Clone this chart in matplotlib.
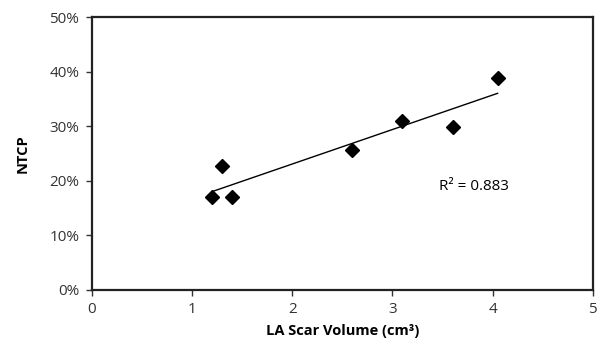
import matplotlib.pyplot as plt
import numpy as np
from matplotlib.ticker import FuncFormatter

# scar volume (cm^3) vs NTCP (%)
scar_volume = [1.2, 1.3, 1.4, 2.6, 3.1, 3.6, 4.05]
ntcp = [17.0, 22.7, 17.0, 25.7, 31.0, 29.8, 38.8]
r2_label = "R² = 0.883"

plt.rcParams['font.family'] = ['Open Sans', 'DejaVu Sans']

fig = plt.figure(figsize=(6, 3.48), dpi=100)
ax = fig.add_axes([0.153, 0.167, 0.835, 0.784])

ax.plot(scar_volume, ntcp, linestyle='none', marker='D', markersize=7.5,
        color='black')

# linear trendline
slope, intercept = np.polyfit(scar_volume, ntcp, 1)
xs = np.array([min(scar_volume), max(scar_volume)])
ax.plot(xs, slope * xs + intercept, color='black', linewidth=1)

ax.text(3.47, 19.0, r2_label, fontsize=11, va='center', ha='left')

ax.set_xlim(0, 5)
ax.set_ylim(0, 50)
ax.set_xticks([0, 1, 2, 3, 4, 5])
ax.set_yticks([0, 10, 20, 30, 40, 50])
ax.yaxis.set_major_formatter(FuncFormatter(lambda v, p: f"{v:.0f}%"))
ax.tick_params(direction='out', length=4, width=1, labelsize=11,
               colors='#333333', pad=5)
for s in ax.spines.values():
    s.set_linewidth(1.6)
    s.set_color('#222222')

ax.set_xlabel("LA Scar Volume (cm³)", fontsize=10.5, fontweight='bold',
              labelpad=5)
ax.set_ylabel("NTCP", fontsize=10.5, fontweight='bold', labelpad=14)

fig.savefig("out.png", dpi=100)
